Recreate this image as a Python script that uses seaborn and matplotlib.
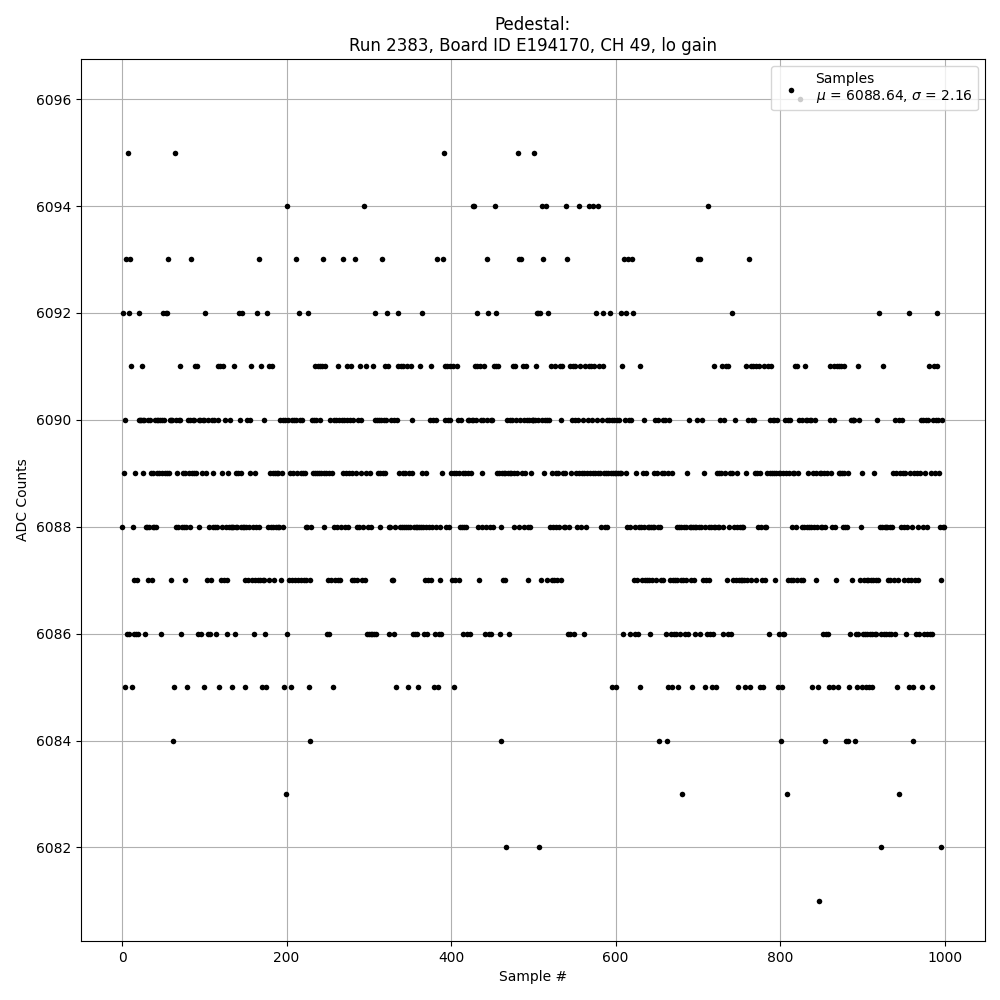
import numpy as np
import matplotlib
matplotlib.use("Agg")
import matplotlib.pyplot as plt
import seaborn as sns

title = "Pedestal:\nRun 2383, Board ID E194170, CH 49, lo gain"
legend_label = "Samples\n$\\mu$ = 6088.64, $\\sigma$ = 2.16"

# ADC value of every sample (rows of 10)
adc_counts = [
    6088, 6092, 6089, 6085, 6090, 6093, 6086, 6095, 6092, 6086,
    6093, 6091, 6085, 6088, 6087, 6086, 6089, 6086, 6087, 6086,
    6090, 6092, 6090, 6090, 6091, 6089, 6090, 6090, 6086, 6088,
    6088, 6090, 6087, 6088, 6090, 6089, 6087, 6088, 6089, 6088,
    6090, 6088, 6089, 6090, 6090, 6089, 6090, 6086, 6089, 6090,
    6092, 6090, 6089, 6092, 6089, 6092, 6093, 6089, 6090, 6087,
    6090, 6090, 6084, 6085, 6095, 6090, 6088, 6089, 6088, 6090,
    6091, 6090, 6086, 6088, 6089, 6088, 6087, 6089, 6088, 6085,
    6090, 6089, 6088, 6090, 6093, 6089, 6090, 6089, 6090, 6091,
    6089, 6091, 6086, 6090, 6088, 6090, 6086, 6089, 6090, 6090,
    6085, 6092, 6089, 6087, 6086, 6090, 6088, 6086, 6087, 6090,
    6088, 6089, 6090, 6088, 6086, 6088, 6091, 6090, 6085, 6091,
    6087, 6089, 6088, 6091, 6087, 6090, 6088, 6086, 6087, 6089,
    6088, 6090, 6088, 6085, 6088, 6088, 6091, 6086, 6088, 6089,
    6088, 6089, 6092, 6090, 6088, 6089, 6092, 6088, 6088, 6085,
    6087, 6088, 6090, 6087, 6088, 6090, 6089, 6091, 6087, 6088,
    6086, 6089, 6087, 6088, 6092, 6087, 6088, 6093, 6087, 6091,
    6085, 6087, 6090, 6087, 6086, 6085, 6092, 6088, 6087, 6091,
    6089, 6088, 6091, 6089, 6088, 6087, 6089, 6088, 6089, 6088,
    6089, 6088, 6090, 6087, 6089, 6090, 6088, 6085, 6090, 6083,
    6094, 6086, 6090, 6087, 6089, 6085, 6090, 6087, 6089, 6090,
    6087, 6093, 6090, 6089, 6087, 6092, 6090, 6089, 6087, 6090,
    6089, 6087, 6089, 6087, 6088, 6088, 6092, 6085, 6084, 6087,
    6088, 6090, 6089, 6090, 6089, 6091, 6090, 6089, 6091, 6089,
    6090, 6091, 6089, 6091, 6093, 6089, 6088, 6091, 6089, 6086,
    6087, 6089, 6086, 6090, 6087, 6089, 6085, 6088, 6090, 6087,
    6090, 6088, 6087, 6091, 6090, 6087, 6088, 6090, 6093, 6089,
    6090, 6088, 6089, 6090, 6091, 6088, 6089, 6090, 6091, 6087,
    6089, 6090, 6087, 6093, 6089, 6088, 6087, 6090, 6088, 6091,
    6090, 6089, 6087, 6088, 6094, 6087, 6089, 6091, 6086, 6088,
    6086, 6089, 6086, 6088, 6086, 6091, 6086, 6090, 6092, 6086,
    6090, 6089, 6090, 6089, 6088, 6090, 6093, 6089, 6090, 6091,
    6089, 6090, 6092, 6091, 6086, 6088, 6088, 6090, 6087, 6087,
    6086, 6090, 6088, 6085, 6090, 6092, 6091, 6089, 6088, 6091,
    6088, 6089, 6091, 6088, 6089, 6088, 6091, 6088, 6085, 6089,
    6088, 6091, 6089, 6090, 6086, 6088, 6086, 6088, 6086, 6088,
    6085, 6088, 6091, 6088, 6089, 6092, 6088, 6086, 6087, 6089,
    6088, 6086, 6087, 6088, 6090, 6091, 6087, 6088, 6090, 6085,
    6086, 6088, 6090, 6093, 6085, 6086, 6088, 6087, 6086, 6089,
    6093, 6095, 6091, 6090, 6088, 6091, 6090, 6088, 6091, 6090,
    6089, 6087, 6091, 6085, 6089, 6087, 6089, 6091, 6090, 6087,
    6089, 6088, 6090, 6088, 6089, 6086, 6088, 6089, 6088, 6086,
    6090, 6089, 6090, 6086, 6089, 6090, 6094, 6090, 6094, 6091,
    6090, 6091, 6092, 6088, 6087, 6091, 6090, 6088, 6089, 6090,
    6091, 6086, 6088, 6090, 6093, 6092, 6086, 6088, 6090, 6086,
    6090, 6088, 6091, 6094, 6091, 6092, 6089, 6091, 6089, 6086,
    6088, 6084, 6089, 6087, 6089, 6087, 6089, 6082, 6090, 6089,
    6086, 6089, 6090, 6089, 6090, 6091, 6089, 6088, 6091, 6090,
    6089, 6095, 6088, 6093, 6090, 6093, 6089, 6091, 6090, 6088,
    6089, 6091, 6090, 6088, 6087, 6090, 6088, 6089, 6090, 6090,
    6090, 6095, 6090, 6091, 6092, 6090, 6092, 6082, 6092, 6087,
    6094, 6090, 6093, 6089, 6090, 6094, 6090, 6087, 6092, 6090,
    6088, 6091, 6087, 6089, 6088, 6087, 6091, 6089, 6088, 6087,
    6089, 6088, 6091, 6087, 6090, 6091, 6089, 6088, 6089, 6088,
    6094, 6093, 6086, 6088, 6086, 6091, 6089, 6090, 6091, 6086,
    6090, 6091, 6089, 6088, 6090, 6094, 6089, 6091, 6088, 6089,
    6090, 6089, 6086, 6091, 6088, 6089, 6090, 6091, 6094, 6089,
    6091, 6090, 6089, 6094, 6091, 6089, 6092, 6090, 6089, 6094,
    6091, 6089, 6088, 6090, 6091, 6092, 6089, 6088, 6089, 6090,
    6088, 6089, 6090, 6092, 6089, 6085, 6090, 6089, 6090, 6089,
    6085, 6089, 6090, 6089, 6090, 6089, 6092, 6089, 6091, 6086,
    6093, 6090, 6089, 6092, 6088, 6093, 6090, 6088, 6086, 6090,
    6093, 6092, 6087, 6088, 6086, 6089, 6087, 6086, 6088, 6091,
    6085, 6088, 6087, 6089, 6090, 6088, 6087, 6089, 6087, 6088,
    6088, 6087, 6086, 6088, 6087, 6088, 6089, 6088, 6090, 6087,
    6089, 6088, 6090, 6084, 6088, 6087, 6089, 6090, 6087, 6089,
    6090, 6086, 6084, 6085, 6089, 6090, 6087, 6086, 6089, 6085,
    6087, 6086, 6087, 6086, 6088, 6087, 6085, 6088, 6086, 6087,
    6088, 6083, 6087, 6088, 6086, 6087, 6088, 6089, 6086, 6090,
    6088, 6088, 6087, 6085, 6088, 6087, 6088, 6086, 6088, 6090,
    6093, 6088, 6086, 6093, 6088, 6090, 6087, 6089, 6085, 6088,
    6087, 6086, 6094, 6088, 6087, 6086, 6088, 6085, 6086, 6091,
    6088, 6088, 6085, 6089, 6088, 6089, 6088, 6090, 6089, 6091,
    6088, 6086, 6090, 6089, 6091, 6087, 6086, 6091, 6088, 6089,
    6086, 6092, 6089, 6087, 6088, 6090, 6087, 6089, 6088, 6085,
    6087, 6088, 6087, 6088, 6087, 6088, 6087, 6085, 6089, 6091,
    6087, 6090, 6093, 6085, 6091, 6087, 6090, 6091, 6090, 6089,
    6091, 6087, 6089, 6088, 6091, 6089, 6085, 6088, 6087, 6085,
    6091, 6088, 6087, 6088, 6089, 6091, 6086, 6089, 6090, 6091,
    6089, 6090, 6089, 6090, 6087, 6089, 6090, 6085, 6086, 6089,
    6089, 6084, 6085, 6089, 6086, 6086, 6090, 6089, 6083, 6090,
    6087, 6089, 6090, 6087, 6088, 6089, 6087, 6089, 6091, 6088,
    6087, 6091, 6089, 6090, 6096, 6087, 6088, 6090, 6087, 6088,
    6091, 6090, 6088, 6090, 6089, 6088, 6090, 6088, 6090, 6085,
    6089, 6088, 6090, 6089, 6087, 6088, 6085, 6081, 6089, 6088,
    6089, 6088, 6086, 6089, 6084, 6088, 6086, 6089, 6086, 6085,
    6090, 6091, 6089, 6088, 6085, 6090, 6091, 6088, 6087, 6091,
    6085, 6089, 6091, 6089, 6091, 6089, 6088, 6091, 6089, 6088,
    6084, 6088, 6089, 6084, 6085, 6086, 6090, 6087, 6090, 6090,
    6090, 6084, 6086, 6085, 6091, 6086, 6090, 6087, 6088, 6085,
    6089, 6086, 6087, 6086, 6085, 6087, 6086, 6087, 6085, 6086,
    6087, 6085, 6086, 6087, 6089, 6086, 6087, 6086, 6090, 6087,
    6092, 6088, 6082, 6086, 6088, 6091, 6086, 6088, 6086, 6088,
    6088, 6087, 6086, 6088, 6087, 6086, 6088, 6089, 6087, 6090,
    6086, 6089, 6085, 6087, 6090, 6083, 6089, 6088, 6090, 6089,
    6088, 6087, 6089, 6086, 6088, 6087, 6092, 6085, 6089, 6087,
    6088, 6084, 6085, 6089, 6087, 6086, 6089, 6088, 6087, 6086,
    6089, 6090, 6085, 6088, 6090, 6086, 6089, 6090, 6088, 6086,
    6090, 6091, 6086, 6089, 6085, 6086, 6090, 6091, 6089, 6090,
    6092, 6091, 6090, 6089, 6088, 6082, 6087, 6090, 6088, 6088,
]
sample_idx = np.arange(len(adc_counts))

fig, ax = plt.subplots(figsize=(10, 10), dpi=100)
sns.scatterplot(x=sample_idx, y=adc_counts, color="black", s=16,
                linewidth=0, label=legend_label, ax=ax, zorder=3)

ax.grid(True)
ax.set_axisbelow(True)
ax.set_title(title)
ax.set_xlabel("Sample #")
ax.set_ylabel("ADC Counts")
ax.legend(loc="upper right")

plt.subplots_adjust(left=0.081, right=0.985, bottom=0.059, top=0.941)
plt.savefig("out.png")
